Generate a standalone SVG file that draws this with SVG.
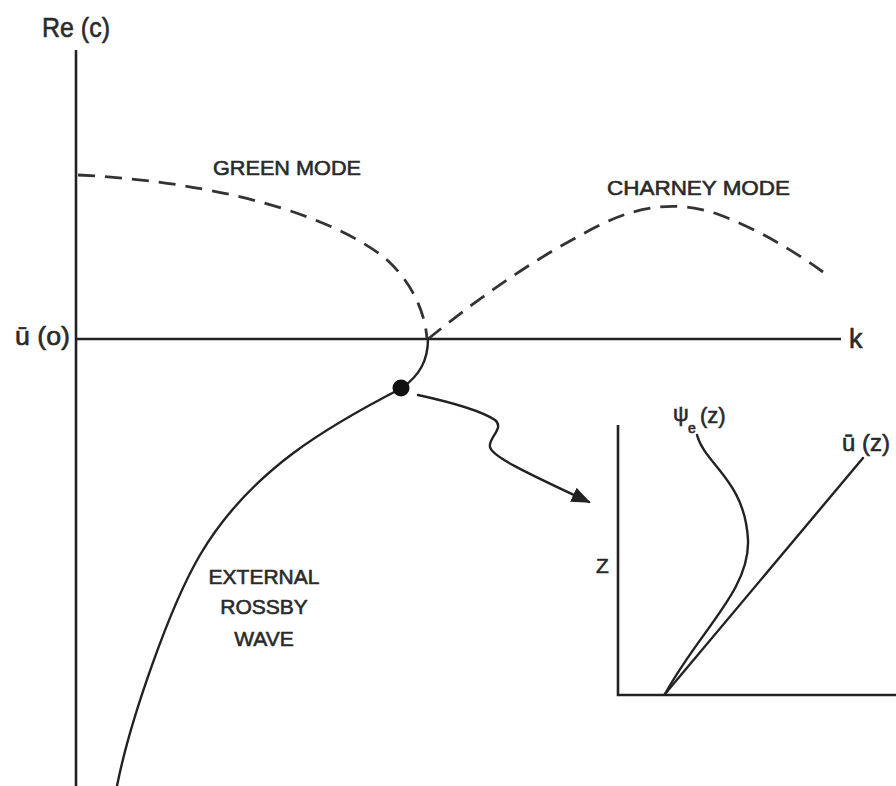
<svg xmlns="http://www.w3.org/2000/svg" width="896" height="786" viewBox="0 0 896 786">
<defs>
<style>
.ax{fill:none;stroke:#222;stroke-width:2.6}
.cv{fill:none;stroke:#222;stroke-width:2.4;stroke-linecap:round}
.dash{fill:none;stroke:#333;stroke-width:2.8;stroke-dasharray:17 10}
.t{font-family:"Liberation Sans",Arial,sans-serif;fill:#2a2a2a;stroke:#2a2a2a;stroke-width:0.6}
.lbl{font-size:21px}
</style>
<marker id="ah" viewBox="0 0 10 10" refX="9" refY="5" markerWidth="8" markerHeight="8" markerUnits="strokeWidth" orient="auto">
<path d="M0,1 L10,5 L0,9 Z" fill="#222"/>
</marker>
</defs>
<rect width="896" height="786" fill="#fff"/>
<g id="main-axes">
<line class="ax" x1="76" y1="50" x2="76" y2="786"/>
<line class="ax" x1="76" y1="339" x2="841" y2="339"/>
<text class="t" x="42" y="37" font-size="28" textLength="68" lengthAdjust="spacingAndGlyphs">Re (c)</text>
<text class="t" x="15" y="345" font-size="25" textLength="55" lengthAdjust="spacingAndGlyphs">ū (o)</text>
<text class="t" x="849" y="348" font-size="27">k</text>
</g>
<g id="green-mode">
<path class="dash" d="M 78 175 C 220 182, 330 215, 385 258 C 410 280, 425 310, 427 339"/>
<text class="t lbl" x="213" y="175" textLength="148" lengthAdjust="spacingAndGlyphs">GREEN MODE</text>
</g>
<g id="charney-mode">
<path class="dash" d="M 428 339 C 470 305, 530 260, 600 225 C 640 205, 680 200, 720 215 C 760 230, 800 255, 823 272"/>
<text class="t lbl" x="607" y="195" textLength="183" lengthAdjust="spacingAndGlyphs">CHARNEY MODE</text>
</g>
<g id="external-rossby-wave">
<path class="cv" d="M 428 339 C 428 360, 420 375, 402 388 C 330 425, 250 470, 200 555 C 170 606, 130 720, 117 786"/>
<circle cx="401" cy="388" r="8.5" fill="#111"/>
<text class="t lbl" text-anchor="middle" x="264" y="584">EXTERNAL</text>
<text class="t lbl" text-anchor="middle" x="264" y="614">ROSSBY</text>
<text class="t lbl" text-anchor="middle" x="264" y="646">WAVE</text>
</g>
<g id="connectors">
<path class="cv" marker-end="url(#ah)" d="M 418 395 C 450 402, 480 410, 495 420 C 505 428, 488 438, 490 447 C 492 456, 520 470, 589 502"/>
</g>
<g id="inset">
<path class="ax" d="M 618 425 L 618 695 L 896 695"/>
<path class="cv" d="M 697 435 C 705 465, 745 480, 748 540 C 750 590, 700 630, 665 694"/>
<line class="cv" x1="665" y1="694" x2="863" y2="458"/>
<text class="t" x="596" y="573" font-size="21">Z</text>
<text class="t" x="673" y="421" font-size="22">ψ</text>
<text class="t" x="688" y="433" font-size="14">e</text>
<text class="t" x="700" y="423" font-size="22">(z)</text>
<text class="t" x="842" y="451" font-size="24">ū (z)</text>
</g>
</svg>
